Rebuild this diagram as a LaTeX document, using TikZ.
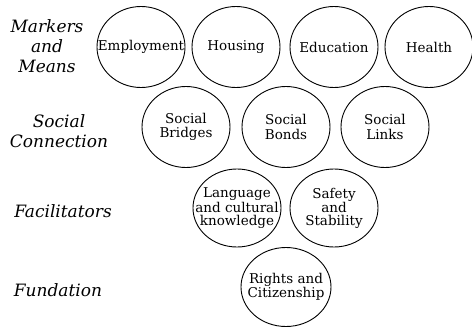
\documentclass[tikz,border=0pt]{standalone}
\usepackage{fontspec}
\setmainfont{DejaVu Serif}
\usetikzlibrary{shapes.geometric}
\tikzset{
  ring/.style={draw,ellipse,line width=.9pt,minimum width=88pt,minimum height=81pt,inner sep=-20pt,align=center,font=\fontsize{13.5}{14.5}\selectfont},
  level/.style={align=center,font=\fontsize{17}{20}\selectfont\itshape}
}
\begin{document}
\begin{tikzpicture}[x=1pt,y=-1pt]
\useasboundingbox (0,0) rectangle (472,327);
% row labels
\node[level] (markers) at (47,46){Markers\\and\\Means};
\node[level] (social) at (59,131){Social\\Connection};
\node[level] (facil) at (63,211){Facilitators};
\node[level] (found) at (58,290){Fundation};

% markers and means
\node[ring] (employ) at (141,47){Employment};
\node[ring] (housing) at (236,47){Housing};
\node[ring] (educ) at (334,47){Education};
\node[ring] (health) at (429,47){Health};

% social connection
\node[ring] (bridges) at (186,127){Social\\Bridges};
\node[ring] (bonds) at (286,127){Social\\Bonds};
\node[ring] (links) at (385,127){Social\\Links};

% facilitators
\node[ring,minimum height=78pt,font=\fontsize{13.5}{13}\selectfont] (lang) at (237,208){Language\\and cultural\\knowledge};
\node[ring,minimum height=78pt,font=\fontsize{13.5}{13}\selectfont] (safety) at (334,208){Safety\\and\\Stability};

% foundation
\node[ring,minimum width=90pt,minimum height=79pt,font=\fontsize{13.5}{13}\selectfont] (rights) at (286,287){Rights and\\Citizenship};
\end{tikzpicture}
\end{document}
